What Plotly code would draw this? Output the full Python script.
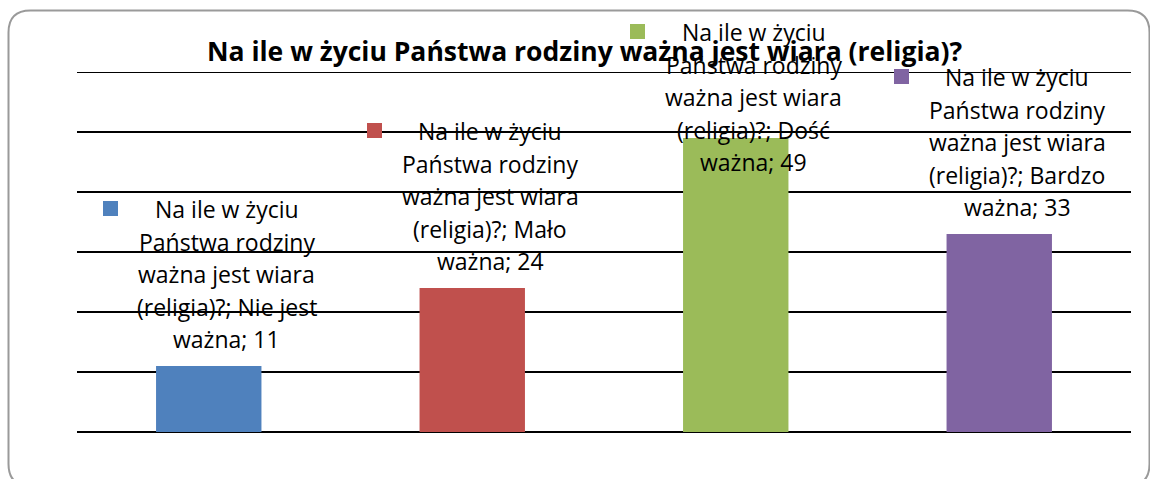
import textwrap
import plotly.graph_objects as go

question = "Na ile w życiu Państwa rodziny ważna jest wiara (religia)?"
categories = ["Nie jest ważna", "Mało ważna", "Dość ważna", "Bardzo ważna"]
values = [11, 24, 49, 33]
colors = ["#4F81BD", "#C0504D", "#9BBB59", "#8064A2"]

W, H = 1150, 479
L, R, T, B = 77, 19, 72, 47
PW, PH = W - L - R, H - T - B
YMAX = 60
LABEL_CAP = 40.5  # labels pushed down so they stay inside the chart


def px(x, y):
    return (x - L) / PW, (H - B - y) / PH


fig = go.Figure()
fig.add_trace(go.Bar(
    x=categories, y=values, marker=dict(color=colors, line=dict(width=0)),
    width=0.4, hoverinfo="skip", showlegend=False,
))

ann = []
FONT = "Open Sans"
LINE = 32.5
for cat, val, col in zip(categories, values, colors):
    lines = textwrap.wrap(f"{question}; {cat}; {val}", width=20)
    anchor = min(val, LABEL_CAP)
    n = len(lines)
    for j, ln in enumerate(lines):
        ann.append(dict(
            x=cat, y=anchor, xref="x", yref="y", text=ln, showarrow=False,
            xshift=18, yshift=27 + (n - 1 - j) * LINE, yanchor="middle",
            font=dict(family=FONT, size=23, color="#000000"),
        ))
    ann.append(dict(
        x=cat, y=anchor, xref="x", yref="y", text=" ", showarrow=False,
        width=15, height=15, bgcolor=col, borderpad=0, borderwidth=0,
        xshift=-98, yshift=27 + (n - 1) * LINE + 1, yanchor="middle",
        font=dict(size=1),
    ))

tx, ty = px(584, 51)
ann.append(dict(
    x=tx, y=ty, xref="paper", yref="paper", text=f"<b>{question}</b>",
    showarrow=False, xanchor="center", yanchor="middle",
    font=dict(family=FONT, size=26.5, color="#000000"),
))

# rounded chart border
x0, y0, x1, y1, r = 8.5, 10.5, 1149.5, 486, 22
pts = [
    ("M", (x0 + r, y0)), ("L", (x1 - r, y0)), ("Q", (x1, y0), (x1, y0 + r)),
    ("L", (x1, y1 - r)), ("Q", (x1, y1), (x1 - r, y1)), ("L", (x0 + r, y1)),
    ("Q", (x0, y1), (x0, y1 - r)), ("L", (x0, y0 + r)), ("Q", (x0, y0), (x0 + r, y0)),
]
path = ""
for cmd, *ps in pts:
    path += cmd + " " + " ".join("%.5f,%.5f" % px(*p) for p in ps) + " "
path += "Z"

shapes = [
    dict(type="path", path=path, xref="paper", yref="paper",
         line=dict(color="#9a9a9a", width=2), layer="below"),
    # top gridline (plotly omits the gridline at the very edge of the range)
    dict(type="line", xref="paper", yref="y", x0=0, x1=1, y0=YMAX, y1=YMAX,
         line=dict(color="#000000", width=2), layer="below"),
]

fig.update_layout(
    width=W, height=H,
    margin=dict(l=L, r=R, t=T, b=B),
    paper_bgcolor="white", plot_bgcolor="white",
    bargap=0.6,
    annotations=ann,
    shapes=shapes,
    xaxis=dict(showticklabels=False, showgrid=False, zeroline=False, showline=False,
               ticks=""),
    yaxis=dict(range=[0, YMAX], dtick=10, showticklabels=False, showgrid=True,
               gridcolor="#000000", gridwidth=2, zeroline=True, zerolinecolor="#000000",
               zerolinewidth=2, showline=False, ticks=""),
)

fig.write_html("out.html", config={"displayModeBar": False},
               post_script="document.body.style.margin='0px';")
